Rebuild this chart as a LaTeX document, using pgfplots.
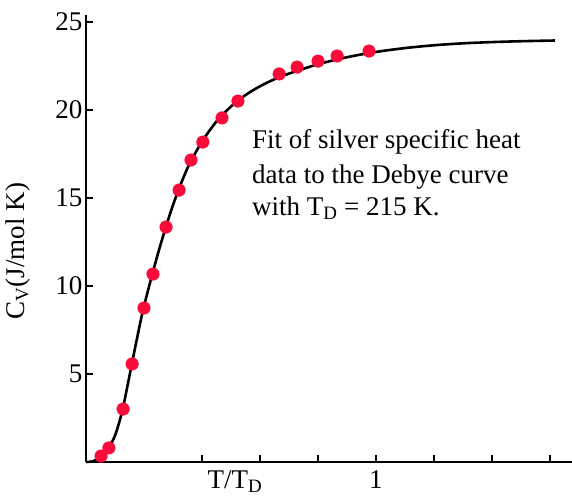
\documentclass[border=0pt]{standalone}
\usepackage{fontspec}
\setmainfont{Liberation Serif}
\usepackage{pgfplots}
\pgfplotsset{compat=1.18}
\definecolor{dotred}{RGB}{250,12,58}
\newcommand{\bigfont}{\fontsize{27}{34}\selectfont}
\begin{document}
\begin{tikzpicture}
\begin{axis}[
name=ax,
scale only axis,
width=486pt, height=447pt,
xmin=0, xmax=1.676,
ymin=0, ymax=25.4,
axis x line=bottom, axis y line=left,
axis line style={-, line width=2.8pt, black},
xtick={0.4,0.6,0.8,1.0,1.2,1.4,1.6},
xticklabels={,,,1,,,},
ytick={5,10,15,20,25},
tick align=inside,
major tick length=7pt,
every tick/.style={black, line width=2.2pt},
tick label style={font=\bigfont},
x tick label style={yshift=-5pt},
/pgf/number format/assume math mode=true,
xlabel={T/T\textsubscript{D}},
every axis x label/.style={at={(axis cs:0.514,0)}, anchor=north, yshift=-5pt, font=\bigfont},
ylabel={C\textsubscript{V}(J/mol K)},
every axis y label/.style={at={(axis description cs:-0.14,0.472)}, rotate=90, anchor=center, font=\bigfont},
clip=false,
]
% Debye curve
\addplot[black, line width=2.6pt, smooth] coordinates {
(0,0) (0.025,0.05) (0.05,0.3) (0.075,0.75) (0.1,1.5) (0.125,2.9)
(0.15,4.9) (0.175,6.95) (0.2,8.85) (0.25,11.95) (0.3,14.6) (0.35,16.7)
(0.4,18.2) (0.45,19.35) (0.5,20.2) (0.55,20.85) (0.6,21.35) (0.65,21.75)
(0.7,22.07) (0.8,22.6) (0.9,23.0) (1.0,23.3) (1.1,23.52) (1.2,23.68)
(1.3,23.79) (1.4,23.86) (1.5,23.91) (1.617,23.95)
};
% silver data
\addplot[only marks, mark=*, mark size=6.3pt, color=dotred] coordinates {
(0.052,0.34) (0.079,0.80) (0.128,3.01) (0.159,5.57) (0.2,8.75)
(0.231,10.68) (0.276,13.35) (0.321,15.45) (0.362,17.16) (0.403,18.18)
(0.469,19.55) (0.524,20.51) (0.666,22.05) (0.728,22.44) (0.8,22.78)
(0.866,23.07) (0.976,23.35)
};
\node[anchor=base west, inner sep=0, font=\bigfont] at (axis cs:0.572,17.84) {Fit of silver specific heat};
\node[anchor=base west, inner sep=0, font=\bigfont] at (axis cs:0.572,15.80) {data to the Debye curve};
\node[anchor=base west, inner sep=0, font=\bigfont] at (axis cs:0.572,13.98) {with T\textsubscript{D} = 215 K.};
\end{axis}
\pgfresetboundingbox
\path ([xshift=-86pt,yshift=-38pt]ax.south west) rectangle ([yshift=15pt]ax.north east);
\end{tikzpicture}
\end{document}
